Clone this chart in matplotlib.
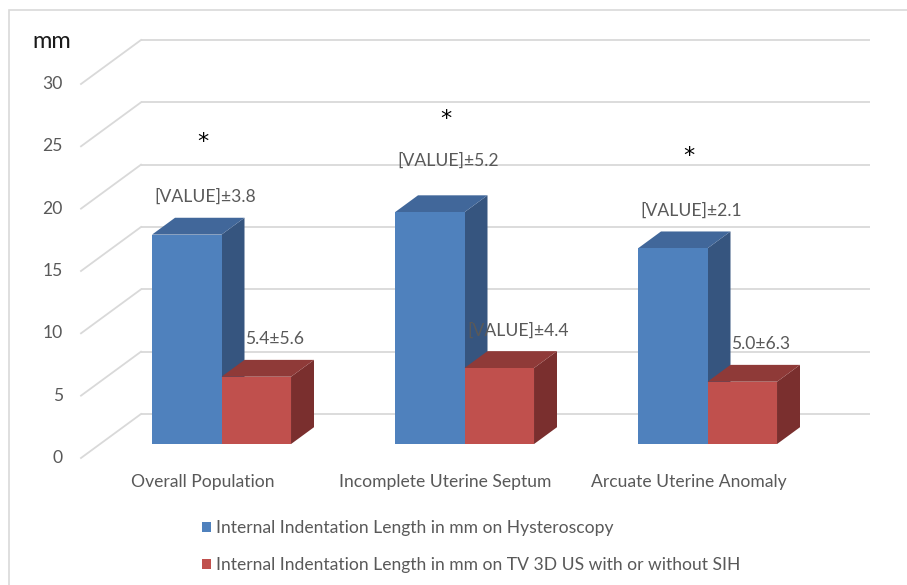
import matplotlib
matplotlib.use("Agg")
import matplotlib.pyplot as plt
from matplotlib.patches import Polygon, Rectangle, Patch

# ---- data -------------------------------------------------------------
categories = ["Overall Population", "Incomplete Uterine Septum", "Arcuate Uterine Anomaly"]
series_names = [
    "Internal Indentation Length in mm on Hysteroscopy",
    "Internal Indentation Length in mm on TV 3D US with or without SIH",
]
hysteroscopy = [16.8, 18.6, 15.7]
ultrasound = [5.4, 6.1, 5.0]
hysteroscopy_sd = [3.8, 5.2, 2.1]
ultrasound_sd = [5.6, 4.4, 6.3]
# whether the mean is printed as a number (otherwise the field placeholder shows)
hysteroscopy_mean_printed = [False, False, False]
ultrasound_mean_printed = [True, False, True]
significant = [True, True, True]
y_ticks = [0, 5, 10, 15, 20, 25, 30]
y_unit = "mm"

# ---- style ------------------------------------------------------------
plt.rcParams["font.family"] = ["Lato", "DejaVu Sans"]
TEXT = "#595959"
GRID = "#D9D9D9"
BLUE = ("#4F81BD", "#41679A", "#36557F")   # front, top, side
RED = ("#C0504D", "#8F3A38", "#7A2F2E")
FS = 12.6

W, H = 907, 585
fig = plt.figure(figsize=(W / 100, H / 100), dpi=100)
fig.patch.set_facecolor("white")

# chart area outline
fig.add_artist(Rectangle((9 / W, -0.1), 1.2, (H - 10) / H + 0.1,
                         transform=fig.transFigure, fill=False,
                         edgecolor=GRID, lw=1.2))

# front plane of the oblique projection
ax = fig.add_axes([81 / W, (H - 458) / H, 729 / W, 374 / H])
ax.set_xlim(-0.5, 2.5)
ax.set_ylim(0, 30)
ax.axis("off")

PX_X = 729 / 3.0      # pixels per category unit
PX_Y = 374 / 30.0     # pixels per mm
DEPTH_X = 60 / PX_X   # full depth of the floor, in data units
DEPTH_Y = 44 / PX_Y


def proj(x, v, d):
    return x + d * DEPTH_X, v + d * DEPTH_Y


# back wall gridlines and the diagonal lines on the side wall
for v in y_ticks:
    x0, y0 = proj(-0.5, v, 1)
    x1, y1 = proj(2.5, v, 1)
    ax.plot([x0, x1], [y0, y1], color=GRID, lw=1.3, zorder=1, clip_on=False,
            solid_capstyle="butt")
    fx, fy = proj(-0.5, v, 0)
    ax.plot([fx, x0], [fy, y0], color=GRID, lw=1.3, zorder=1, clip_on=False)
    ax.annotate(str(v), xy=(fx, fy), xytext=(-13, 0), textcoords="offset points",
                ha="right", va="center", fontsize=FS, color=TEXT)

fig.text(52 / W, 1 - 42 / H, y_unit, ha="center", va="center",
         fontsize=17, color="#1a1a1a")

# bars
BAR_W = 0.286
D0, D1 = 0.317, 0.70


def draw_bar(x_left, value, colors, z):
    fx, fy = proj(x_left, 0, D0)
    ax.bar(fx, value, BAR_W, bottom=fy, align="edge", color=colors[0],
           linewidth=0, zorder=z + 0.2, clip_on=False)
    a = proj(x_left, value, D0)
    b = proj(x_left + BAR_W, value, D0)
    c = proj(x_left + BAR_W, value, D1)
    d = proj(x_left, value, D1)
    ax.add_patch(Polygon([a, b, c, d], closed=True, facecolor=colors[1],
                         edgecolor="none", zorder=z + 0.1, clip_on=False))
    e = proj(x_left + BAR_W, 0, D0)
    f = proj(x_left + BAR_W, 0, D1)
    ax.add_patch(Polygon([e, b, c, f], closed=True, facecolor=colors[2],
                         edgecolor="none", zorder=z, clip_on=False))


def value_label(x_left, value, sd, printed, lift):
    mean = f"{value:.1f}" if printed else "[VALUE]"
    text = f"{mean}\u00b1{sd:.1f}"
    xy = proj(x_left + BAR_W / 2, value, (D0 + D1) / 2)
    ax.annotate(text, xy=xy, xytext=(5, lift), textcoords="offset points",
                ha="center", va="center", fontsize=FS, color=TEXT, zorder=20)


for i in range(len(categories)):
    z = 2 + i * 2
    draw_bar(i - BAR_W, hysteroscopy[i], BLUE, z)
    draw_bar(i, ultrasound[i], RED, z + 1)
    value_label(i - BAR_W, hysteroscopy[i], hysteroscopy_sd[i],
                hysteroscopy_mean_printed[i], 31 if i == 1 else 21)
    value_label(i, ultrasound[i], ultrasound_sd[i],
                ultrasound_mean_printed[i], 21)
    if significant[i]:
        ax.annotate("*", xy=(i, hysteroscopy[i]), xytext=(0, 72.5),
                    textcoords="offset points", ha="center", va="baseline",
                    fontsize=16, family="DejaVu Sans", color="black", zorder=20)
    ax.annotate(categories[i], xy=(i, 0), xytext=(0, -17),
                textcoords="offset points", ha="center", va="center",
                fontsize=FS, color=TEXT)

handles = [Patch(facecolor=BLUE[0]), Patch(facecolor=RED[0])]
fig.legend(handles, series_names, loc="upper left",
           bbox_to_anchor=(193 / W, 1 - 511 / H), frameon=False,
           fontsize=FS, labelcolor=TEXT, handlelength=0.5, handleheight=0.5,
           handletextpad=0.3, labelspacing=1.24, borderpad=0)

fig.savefig("out.png", dpi=100)
